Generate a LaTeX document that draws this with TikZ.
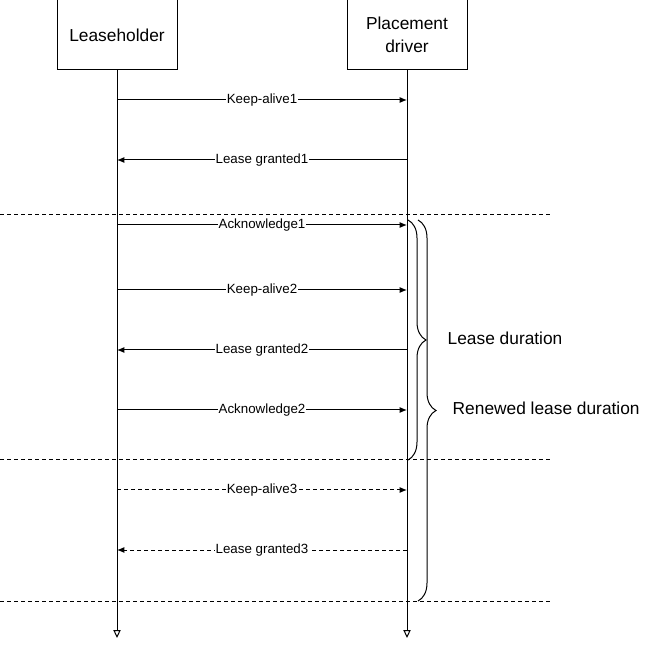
\documentclass[tikz,border=0pt]{standalone}
\usepackage{fontspec}
\setmainfont{Liberation Sans}
\usetikzlibrary{arrows.meta,decorations.pathreplacing}

\begin{document}
\begin{tikzpicture}[x=0.75pt,y=-0.75pt,
  actor/.style={draw,line width=0.75pt,minimum width=90pt,minimum height=52.5pt,align=center,font=\fontsize{13}{17}\selectfont},
  life/.style={line width=0.75pt,-{Triangle[open,length=6pt,width=5.5pt]}},
  msg/.style={line width=0.75pt,-{Latex[length=5.5pt,width=4.5pt]}},
  reply/.style={msg,dash pattern=on 3pt off 2.25pt},
  lbl/.style={fill=white,inner sep=0.8pt,font=\fontsize{10}{12}\selectfont},
  sep/.style={line width=0.75pt,dash pattern=on 3pt off 2.25pt},
  lease/.style={line width=0.75pt,decorate,decoration={brace,amplitude=13.5pt}},
  big/.style={anchor=west,font=\fontsize{13}{16}\selectfont}]
\useasboundingbox (0,0) rectangle (658,649);
% participants
\node[actor] (lh) at (117,35) {Leaseholder};
\node[actor] (pd) at (407,35) {Placement\\driver};
\coordinate (lhend) at (117,638);
\coordinate (pdend) at (407,638);
\draw[life] (lh.south) -- (lhend);
\draw[life] (pd.south) -- (pdend);
% messages
\draw[msg] (lh.south |- 0,100) -- node[lbl] {Keep-alive1} (pd.south |- 0,100);
\draw[msg] (pd.south |- 0,160) -- node[lbl] {Lease granted1} (lh.south |- 0,160);
\draw[msg] (lh.south |- 0,225) -- node[lbl] {Acknowledge1} (pd.south |- 0,225);
\draw[msg] (lh.south |- 0,290) -- node[lbl] {Keep-alive2} (pd.south |- 0,290);
\draw[msg] (pd.south |- 0,350) -- node[lbl] {Lease granted2} (lh.south |- 0,350);
\draw[msg] (lh.south |- 0,410) -- node[lbl] {Acknowledge2} (pd.south |- 0,410);
\draw[reply] (lh.south |- 0,490) -- node[lbl] {Keep-alive3} (pd.south |- 0,490);
\draw[reply] (pd.south |- 0,550) -- node[lbl] {Lease granted3} (lh.south |- 0,550);
% separators
\coordinate (s1a) at (0,215); \coordinate (s1b) at (552,215);
\coordinate (s2a) at (0,460); \coordinate (s2b) at (552,460);
\coordinate (s3a) at (0,601); \coordinate (s3b) at (552,601);
\draw[sep] (s1a) -- (s1b);
\draw[sep] (s2a) -- (s2b);
\draw[sep] (s3a) -- (s3b);
% durations
\coordinate (b1a) at (408,220); \coordinate (b1b) at (408,460);
\coordinate (b2a) at (418,220); \coordinate (b2b) at (418,601);
\draw[lease] (b1a) -- (b1b);
\draw[lease] (b2a) -- (b2b);
\node[big] (ld) at (443,338) {Lease duration};
\node[big] (rld) at (448,408) {Renewed lease duration};
\end{tikzpicture}
\end{document}
